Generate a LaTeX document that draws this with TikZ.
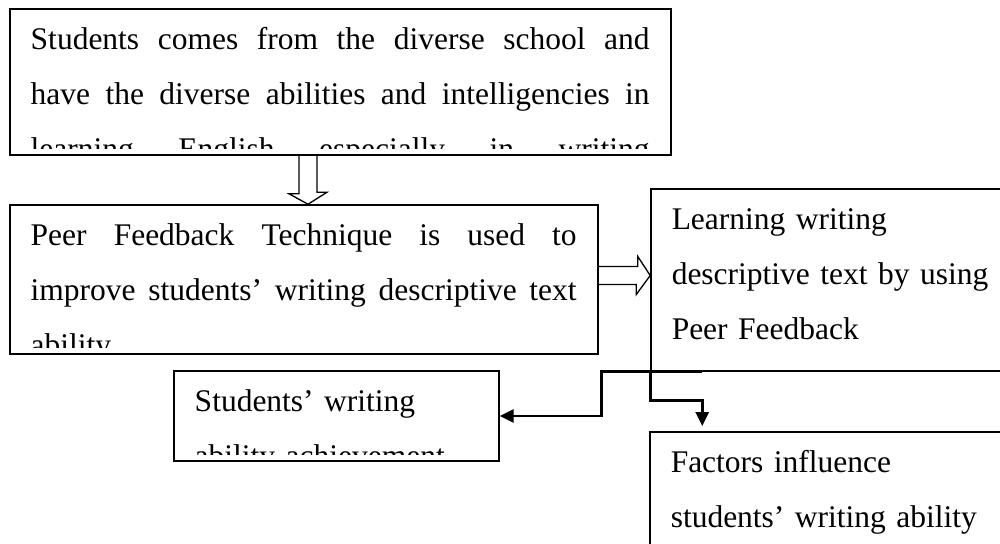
\documentclass[tikz,border=0pt]{standalone}
\usepackage{fontspec}
\setmainfont{Liberation Serif}
\usetikzlibrary{arrows.meta,calc,fit}
\tolerance=10000
\hbadness=10000
\hyphenpenalty=10000

\tikzset{
  box/.style={draw, line width=0.6pt, inner sep=0pt},
  boxtext/.style={inner sep=0pt, anchor=base west, font=\fontsize{12}{21}\selectfont},
  hollow/.style={draw, line width=0.5pt, line join=miter},
  link/.style={line width=1pt, -{Triangle[length=5.3pt,width=5pt]}},
}

% text of a box, cut off a little above the bottom edge
\newcommand\boxlines[4]{%
  \begin{scope}
    \clip (#1.north west) rectangle ($(#1.south east)+(0,-7)$);
    \node[boxtext, text width=#2, align=#3] (#1 text) at ($(#1.north west)+(21,41)$) {#4};
  \end{scope}}

\begin{document}
\begin{tikzpicture}[x=0.381pt, y=-0.381pt]
\useasboundingbox (0,0) rectangle (1000,543);
\clip (0,0) rectangle (1000,543);

% the boxes, corners in px (y runs down)
\node[box, fit={(10,9) (671,155)}] (diverse) {};
\node[box, fit={(10,205) (598,354)}] (peer) {};
\node[box, fit={(651,189) (1030,371)}] (learning) {};
\node[box, fit={(174,371) (499,461)}] (achieve) {};
\node[box, fit={(650,432) (1030,600)}] (factors) {};

\boxlines{diverse}{235.8pt}{justify}{Students comes from the diverse school and\linebreak have the diverse abilities and intelligencies in\linebreak learning English especially in writing\linebreak}
\boxlines{peer}{208pt}{justify}{Peer Feedback Technique is used to\linebreak improve students’ writing descriptive text\linebreak ability}
\boxlines{learning}{130pt}{left}{Learning writing\\ descriptive text by using\\ Peer Feedback}
\boxlines{achieve}{107.8pt}{left}{Students’ writing\\ ability achievement}
\boxlines{factors}{130pt}{left}{Factors influence\\ students’ writing ability}

% hollow block arrows
\coordinate (down tip) at ($(peer.north)+(4,0)$);
\draw[hollow] ($(down tip |- diverse.south)+(-9,0)$) -- ++(0,38) -- ++(-10,0) -- (down tip) -- ++(19,-12) -- ++(-10,0) -- ++(0,-38);
\coordinate (right tip) at ($(peer.east -| learning.west)+(0,-4)$);
\draw[hollow] ($(peer.east)+(0,-13)$) -- ++(39,0) -- ++(0,-10) -- (right tip) -- ++(-14,19) -- ++(0,-10) -- ++(-39,0);

% elbow connectors out of the learning box
\coordinate (split) at ($(learning.south west)+(52,0)$);
\draw[link, shorten >=2pt] (learning.south west) -- ++(0,29) -| (factors.north -| split);
\draw[link] (split) -| ($(achieve.east)+(102,0)$) -- (achieve.east);
\end{tikzpicture}
\end{document}
